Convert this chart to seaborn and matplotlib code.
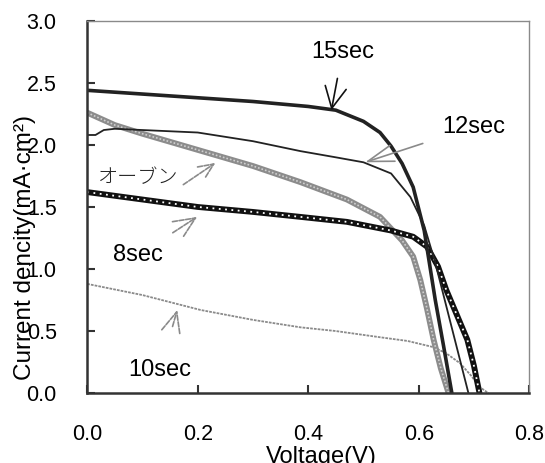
import matplotlib
matplotlib.use("Agg")
import matplotlib.pyplot as plt
import seaborn as sns

sns.set_theme(style="white")
plt.rcParams['font.family'] = ['Liberation Sans', 'Noto Sans CJK JP', 'DejaVu Sans']
plt.rcParams['text.color'] = 'black'
plt.rcParams['axes.labelcolor'] = 'black'

# ---- data ----
v_15 = [0, 0.1, 0.2, 0.3, 0.4, 0.45, 0.5, 0.53, 0.55, 0.57, 0.59, 0.61, 0.63, 0.645, 0.66]
j_15 = [2.44, 2.41, 2.38, 2.35, 2.31, 2.28, 2.19, 2.10, 1.99, 1.85, 1.66, 1.31, 0.75, 0.38, 0.0]

v_12 = [0, 0.015, 0.03, 0.05, 0.1, 0.2, 0.3, 0.386, 0.45, 0.5, 0.55, 0.585, 0.61, 0.63, 0.65, 0.67, 0.69]
j_12 = [2.08, 2.08, 2.12, 2.13, 2.12, 2.10, 2.03, 1.95, 1.90, 1.86, 1.77, 1.58, 1.35, 1.05, 0.70, 0.35, 0.0]

v_8 = [0, 0.1, 0.2, 0.3, 0.386, 0.47, 0.55, 0.59, 0.615, 0.635, 0.65, 0.67, 0.688, 0.70, 0.71]
j_8 = [1.62, 1.56, 1.50, 1.46, 1.42, 1.38, 1.31, 1.26, 1.18, 1.02, 0.83, 0.62, 0.43, 0.22, 0.0]

v_oven = [0, 0.05, 0.1, 0.2, 0.3, 0.386, 0.47, 0.53, 0.57, 0.59, 0.603, 0.615, 0.627, 0.64, 0.654]
j_oven = [2.26, 2.16, 2.09, 1.96, 1.83, 1.70, 1.56, 1.42, 1.23, 1.10, 0.91, 0.68, 0.43, 0.20, 0.0]

v_10 = [0, 0.1, 0.205, 0.3, 0.386, 0.45, 0.53, 0.58, 0.627, 0.65, 0.675, 0.695, 0.71, 0.726]
j_10 = [0.88, 0.79, 0.67, 0.59, 0.53, 0.50, 0.45, 0.42, 0.37, 0.32, 0.24, 0.14, 0.05, 0.0]

x_ticks = [0.0, 0.2, 0.4, 0.6, 0.8]
y_ticks = [0.0, 0.5, 1.0, 1.5, 2.0, 2.5, 3.0]
x_label = "Voltage(V)"
y_label = "Current dencity(mA\u00b7cm\u00b2)"

fig = plt.figure(figsize=(5.45, 4.63), dpi=100)
ax = fig.add_axes([0.160, 0.151, 0.811, 0.804])

def line(v, j, **kw):
    sns.lineplot(x=v, y=j, ax=ax, sort=False, estimator=None, legend=False, **kw)

# 10sec thin grey dotted
line(v_10, j_10, color="#8a8a8a", linewidth=1.3, linestyle=(0, (1.5, 0.6)))
# oven: grey checkered thick
line(v_oven, j_oven, color="#8c8c8c", linewidth=4.2)
line(v_oven, j_oven, color="#cfcfcf", linewidth=1.2, linestyle=(0, (1, 1.2)))
# 8sec: black with white dots
line(v_8, j_8, color="#111111", linewidth=4.2)
line(v_8, j_8, color="white", linewidth=1.3, linestyle=(0, (1, 2.5)))
# 12sec thin black
line(v_12, j_12, color="#222222", linewidth=1.3)
# 15sec thick black
line(v_15, j_15, color="#222222", linewidth=2.6)

ax.set_xlim(0, 0.8)
ax.set_ylim(0, 3.0)
ax.set_xticks(x_ticks)
ax.set_yticks(y_ticks)
ax.set_xticklabels([f"{t:.1f}" for t in x_ticks], fontsize=15.5)
ax.set_yticklabels([f"{t:.1f}" for t in y_ticks], fontsize=15.5)
ax.tick_params(axis='both', which='major', direction='in', length=6, width=1.5, color='#333333',
               labelcolor='black', left=True, bottom=True, top=False, right=False)
ax.tick_params(axis='x', pad=22)
ax.tick_params(axis='y', pad=22)

for s in ['left', 'bottom']:
    ax.spines[s].set_color('#333333')
    ax.spines[s].set_linewidth(1.8)
for s in ['top', 'right']:
    ax.spines[s].set_color('#8a8a8a')
    ax.spines[s].set_linewidth(1.0)

ax.set_xlabel(x_label, fontsize=17)
ax.xaxis.set_label_coords(0.53, -0.143)
ax.set_ylabel(y_label, fontsize=17.5)
ax.yaxis.set_label_coords(-0.115, 0.39)
ax.grid(False)

tfs = 17
gcol = '#8a8a8a'
# annotations
ax.annotate("15sec", xy=(0.442, 2.28), xytext=(0.462, 2.75), fontsize=tfs, ha='center', va='center',
            arrowprops=dict(arrowstyle='->,head_length=0.9,head_width=0.45', color='#111111', lw=1.2,
                            shrinkA=9, shrinkB=0))
ax.annotate("12sec", xy=(0.503, 1.86), xytext=(0.699, 2.145), fontsize=tfs, ha='center', va='center',
            arrowprops=dict(arrowstyle='->,head_length=1.1,head_width=0.35', color=gcol, lw=1.2,
                            shrinkA=12, shrinkB=0))
ax.text(0.093, 1.74, "オーブン", fontsize=14.5, ha='center', va='center',
        family=['Noto Sans CJK JP', 'DejaVu Sans'], color='#222222', fontweight='light')
ax.annotate("", xy=(0.232, 1.855), xytext=(0.174, 1.68),
            arrowprops=dict(arrowstyle='->,head_length=0.9,head_width=0.4', color=gcol, lw=1.2,
                            linestyle=(0, (3, 1)), shrinkA=0, shrinkB=0))
ax.annotate("8sec", xy=(0.199, 1.42), xytext=(0.092, 1.11), fontsize=tfs, ha='center', va='center',
            arrowprops=dict(arrowstyle='->,head_length=0.9,head_width=0.4', color=gcol, lw=1.2,
                            linestyle=(0, (3, 1)), shrinkA=11, shrinkB=0))
ax.annotate("10sec", xy=(0.163, 0.67), xytext=(0.132, 0.185), fontsize=tfs, ha='center', va='center',
            arrowprops=dict(arrowstyle='->,head_length=0.9,head_width=0.4', color=gcol, lw=1.2,
                            linestyle=(0, (3, 1)), shrinkA=22, shrinkB=0))

fig.savefig("out.png", dpi=100)
